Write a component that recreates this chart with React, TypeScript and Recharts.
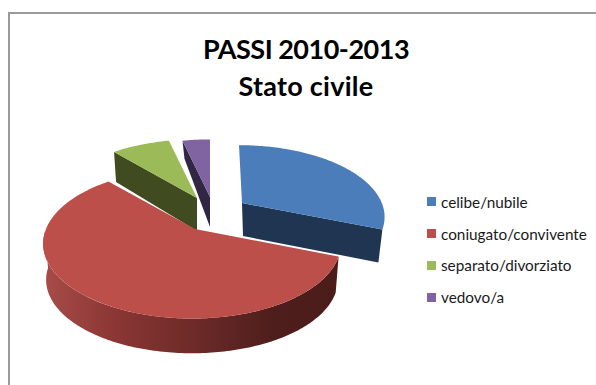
import React from "react";
import { PieChart, Pie, Legend } from "recharts";

// Stato civile, PASSI 2010-2013 (percent of respondents)
const categories = ["celibe/nubile", "coniugato/convivente", "separato/divorziato", "vedovo/a"];
const shares = [30.8, 57.8, 7.7, 3.7];
const titleLines = ["PASSI 2010-2013", "Stato civile"];

const rows = categories.map((name, i) => ({ name, value: shares[i] }));

const WIDTH = 596;
const HEIGHT = 385;
const PIE_CX = 210;
const PIE_CY = 208;
const PIE_R = 140;

// Fake perspective applied to the flat wedge angles
const TILT = 0.484;
const NEAR_FAR = 0.195;

type Wall = { edge: "start" | "end"; inner: [number, number]; outer: [number, number]; color: string };
type SliceLook = {
  fill: string;
  dx: number;
  dy: number;
  scale: number;
  rimShift: number;
  squash: number;
  wall?: Wall;
};

const looks: Record<string, SliceLook> = {
  "celibe/nubile": {
    fill: "#4B7DBA", dx: 32, dy: -5, scale: 1.02, rimShift: -3, squash: 1,
    wall: { edge: "end", inner: [1, 33], outer: [-4, 33], color: "#1F3552" },
  },
  "coniugato/convivente": { fill: "#BD4F4B", dx: -15, dy: 21, scale: 1.043, rimShift: -3, squash: 1.02 },
  "separato/divorziato": {
    fill: "#9BBB59", dx: -13, dy: -10, scale: 1.035, rimShift: 0, squash: 1,
    wall: { edge: "start", inner: [0, 33], outer: [2, 30], color: "#404B20" },
  },
  "vedovo/a": {
    fill: "#8064A2", dx: 0, dy: -11, scale: 1.015, rimShift: 0, squash: 1,
    wall: { edge: "start", inner: [0, 30], outer: [2, 18], color: "#312745" },
  },
};

const project = (clockDeg: number, r: number, squash: number) => {
  const a = (clockDeg * Math.PI) / 180;
  const X = Math.sin(a);
  const Y = Math.cos(a);
  const w = 1 + NEAR_FAR * Y;
  return { x: (X * r) / w, y: (-Y * r * TILT * squash) / w };
};

const rim = (from: number, to: number, r: number, squash: number, ox: number, oy: number) => {
  const pts: string[] = [];
  const n = Math.max(2, Math.ceil(Math.abs(to - from)));
  for (let i = 0; i <= n; i++) {
    const p = project(from + ((to - from) * i) / n, r, squash);
    pts.push(`${(ox + p.x).toFixed(2)},${(oy + p.y).toFixed(2)}`);
  }
  return pts;
};

// Draws one wedge as a tilted, extruded slice using the angles computed by Pie
const Slice3D = (props: any) => {
  const { cx, cy, outerRadius, startAngle, endAngle, name } = props;
  const look = looks[name];
  const ax = cx + look.dx;
  const ay = cy + look.dy;
  const ox = ax + look.rimShift;
  const r = outerRadius * look.scale;
  const from = 90 - startAngle;
  const to = 90 - endAngle;
  const top = `M${ax},${ay} L${rim(from, to, r, look.squash, ox, ay).join(" L")} Z`;

  let side: React.ReactNode = null;
  if (look.wall) {
    const w = look.wall;
    const p = project(w.edge === "start" ? from : to, r, look.squash);
    const pts = [
      [ax, ay],
      [ox + p.x, ay + p.y],
      [ox + p.x + w.outer[0], ay + p.y + w.outer[1]],
      [ax + w.inner[0], ay + w.inner[1]],
    ];
    side = <polygon points={pts.map((q) => q.join(",")).join(" ")} fill={w.color} />;
  } else {
    // Curved outer wall of the front slice, shaded from left to right
    const lastVisible = 268;
    const upper = rim(from, lastVisible, r, look.squash, ox, ay);
    const lower = rim(lastVisible, from, r * 0.98, look.squash, ox, ay + 36.5);
    const gradId = "frontWallShade";
    side = (
      <g>
        <defs>
          <linearGradient id={gradId} x1="1" y1="0" x2="0" y2="0">
            <stop offset="0" stopColor="#4A1C1A" />
            <stop offset="0.22" stopColor="#4E1E1C" />
            <stop offset="0.5" stopColor="#6E2B29" />
            <stop offset="0.75" stopColor="#8A3634" />
            <stop offset="1" stopColor="#A84C48" />
          </linearGradient>
        </defs>
        <path d={`M${upper.join(" L")} L${lower.join(" L")} Z`} fill={`url(#${gradId})`} />
      </g>
    );
  }

  return (
    <g>
      {side}
      <path d={top} fill={look.fill} />
    </g>
  );
};

const backSlice = (props: any) => (props.name === categories[1] ? <g /> : <Slice3D {...props} />);
const frontSlice = (props: any) => (props.name === categories[1] ? <Slice3D {...props} /> : <g />);

const textFont = "Lato, 'Noto Sans', sans-serif";

const LegendRows = () => (
  <div style={{ fontFamily: textFont, fontSize: 15.3, color: "#1a1a1a" }}>
    {categories.map((name) => (
      <div key={name} style={{ display: "flex", alignItems: "center", height: 31.8, whiteSpace: "nowrap" }}>
        <span style={{ width: 9, height: 9, background: looks[name].fill, marginRight: 5, flex: "none" }} />
        {name}
      </div>
    ))}
  </div>
);

export default function App() {
  return (
    <div style={{ position: "fixed", left: 0, top: 0, width: WIDTH, height: HEIGHT, overflow: "hidden", background: "#fff" }}>
      <div style={{ position: "absolute", left: 8, top: 12, width: 640, height: 420, border: "2px solid #9a9a9a" }} />
      <div style={{ position: "absolute", left: 0, top: 0 }}>
        <PieChart width={WIDTH} height={HEIGHT} margin={{ top: 0, right: 0, bottom: 0, left: 0 }}>
          <text x={306} y={59} textAnchor="middle" fontFamily={textFont} fontWeight={700} fontSize={27} letterSpacing={-0.5} fill="#000">
            {titleLines[0]}
          </text>
          <text x={306} y={96} textAnchor="middle" fontFamily={textFont} fontWeight={700} fontSize={27} letterSpacing={0.25} fill="#000">
            {titleLines[1]}
          </text>
          <Pie
            data={rows}
            dataKey="value"
            nameKey="name"
            cx={PIE_CX}
            cy={PIE_CY}
            outerRadius={PIE_R}
            startAngle={90}
            endAngle={-270}
            stroke="none"
            shape={backSlice}
            isAnimationActive={false}
          />
          <Pie
            data={rows}
            dataKey="value"
            nameKey="name"
            cx={PIE_CX}
            cy={PIE_CY}
            outerRadius={PIE_R}
            startAngle={90}
            endAngle={-270}
            stroke="none"
            shape={frontSlice}
            isAnimationActive={false}
          />
          <Legend
            layout="vertical"
            align="right"
            verticalAlign="top"
            content={<LegendRows />}
            wrapperStyle={{ left: 427, top: 186, width: 165 }}
          />
        </PieChart>
      </div>
    </div>
  );
}
